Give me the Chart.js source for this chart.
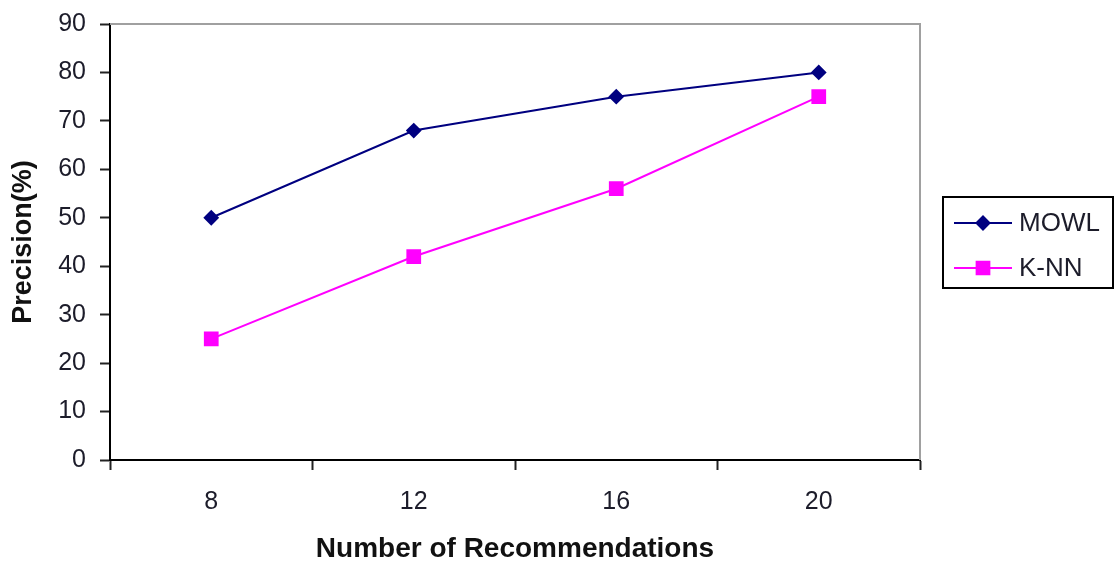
<!DOCTYPE html>
<html>
<head>
<meta charset="utf-8">
<script src="https://cdn.jsdelivr.net/npm/chart.js@4/dist/chart.umd.min.js"></script>
<style>
  html, body { margin: 0; padding: 0; background: #fff; }
  #wrap { width: 1115px; height: 563px; }
</style>
</head>
<body>
<div id="wrap"><canvas id="c" width="1115" height="563"></canvas></div>
<script>
// Recommendation counts on the x axis
const categories = ['8', '12', '16', '20'];
// Precision (%) per method
const mowlValues = [50, 68, 75, 80];
const knnValues = [25, 42, 56, 75];
const seriesNames = ['MOWL', 'K-NN'];
// Y axis range
const yMin = 0, yMax = 90, yStep = 10;

const FONT = '"Liberation Sans", Arial, sans-serif';
const TEXT = '#1c1c2a';

// Gray frame on the top and right of the plot area
const framePlugin = {
  id: 'frame',
  afterDraw(chart) {
    const { ctx, chartArea: a } = chart;
    ctx.save();
    ctx.strokeStyle = '#a0a0a0';
    ctx.lineWidth = 2;
    ctx.beginPath();
    ctx.moveTo(a.left, a.top);
    ctx.lineTo(a.right, a.top);
    ctx.lineTo(a.right, a.bottom);
    ctx.stroke();
    ctx.restore();
  }
};

// Boxed legend to the right of the plot
const boxLegend = {
  id: 'boxLegend',
  afterDraw(chart) {
    const { ctx } = chart;
    const x0 = 943, y0 = 197, w = 170, h = 91;
    ctx.save();
    ctx.fillStyle = '#fff';
    ctx.fillRect(x0, y0, w, h);
    ctx.strokeStyle = '#000';
    ctx.lineWidth = 2;
    ctx.strokeRect(x0, y0, w, h);
    chart.data.datasets.forEach((ds, i) => {
      const y = 223 + i * 45;
      ctx.strokeStyle = ds.borderColor;
      ctx.lineWidth = 2;
      ctx.beginPath();
      ctx.moveTo(954, y);
      ctx.lineTo(1012, y);
      ctx.stroke();
      Chart.helpers.drawPoint(ctx, {
        pointStyle: ds.pointStyle,
        radius: ds.pointRadius,
        borderWidth: 1
      }, 983, y);
      ctx.fillStyle = ds.pointBackgroundColor;
      ctx.fill();
      ctx.fillStyle = TEXT;
      ctx.font = '26px ' + FONT;
      ctx.textBaseline = 'middle';
      ctx.textAlign = 'left';
      ctx.fillText(ds.label, 1019, y + 1);
    });
    ctx.restore();
  }
};

new Chart(document.getElementById('c'), {
  type: 'line',
  data: {
    labels: categories,
    datasets: [
      {
        label: seriesNames[0],
        data: mowlValues,
        borderColor: '#000080',
        backgroundColor: '#000080',
        pointBackgroundColor: '#000080',
        pointBorderColor: '#000080',
        pointStyle: 'rectRot',
        pointRadius: 6.5,
        borderWidth: 2,
        tension: 0
      },
      {
        label: seriesNames[1],
        data: knnValues,
        borderColor: '#ff00ff',
        backgroundColor: '#ff00ff',
        pointBackgroundColor: '#ff00ff',
        pointBorderColor: '#ff00ff',
        pointStyle: 'rect',
        pointRadius: 9,
        borderWidth: 2,
        tension: 0
      }
    ]
  },
  options: {
    responsive: false,
    animation: false,
    events: [],
    layout: { padding: { left: 0, top: 24, right: 195, bottom: 0 } },
    plugins: {
      legend: { display: false },
      tooltip: { enabled: false }
    },
    scales: {
      x: {
        offset: true,
        grid: {
          offset: true,
          drawOnChartArea: false,
          drawTicks: true,
          tickLength: 10,
          tickWidth: 2,
          tickColor: '#222'
        },
        border: { color: '#000', width: 2 },
        ticks: {
          color: TEXT,
          font: { family: FONT, size: 25 },
          padding: 17,
          maxRotation: 0
        },
        title: {
          display: true,
          text: 'Number of Recommendations',
          color: '#111',
          font: { family: FONT, size: 28, weight: 'bold', lineHeight: 1 },
          padding: { top: 0, bottom: 0 }
        },
        afterFit(scale) {
          scale.height = 103;
          scale.paddingLeft = 0;
          scale.paddingRight = 0;
        }
      },
      y: {
        min: yMin,
        max: yMax,
        ticks: {
          stepSize: yStep,
          color: TEXT,
          font: { family: FONT, size: 25 },
          padding: 14
        },
        grid: {
          drawOnChartArea: false,
          drawTicks: true,
          tickLength: 10,
          tickWidth: 2,
          tickColor: '#222'
        },
        border: { color: '#000', width: 2 },
        title: {
          display: true,
          text: 'Precision(%)',
          color: '#111',
          font: { family: FONT, size: 27, weight: 'bold', lineHeight: 1 },
          padding: { top: 10, bottom: 0 }
        },
        afterFit(scale) {
          scale.width = 110;
          scale.paddingTop = 0;
          scale.paddingBottom = 0;
        }
      }
    }
  },
  plugins: [framePlugin, boxLegend]
});
</script>
</body>
</html>
